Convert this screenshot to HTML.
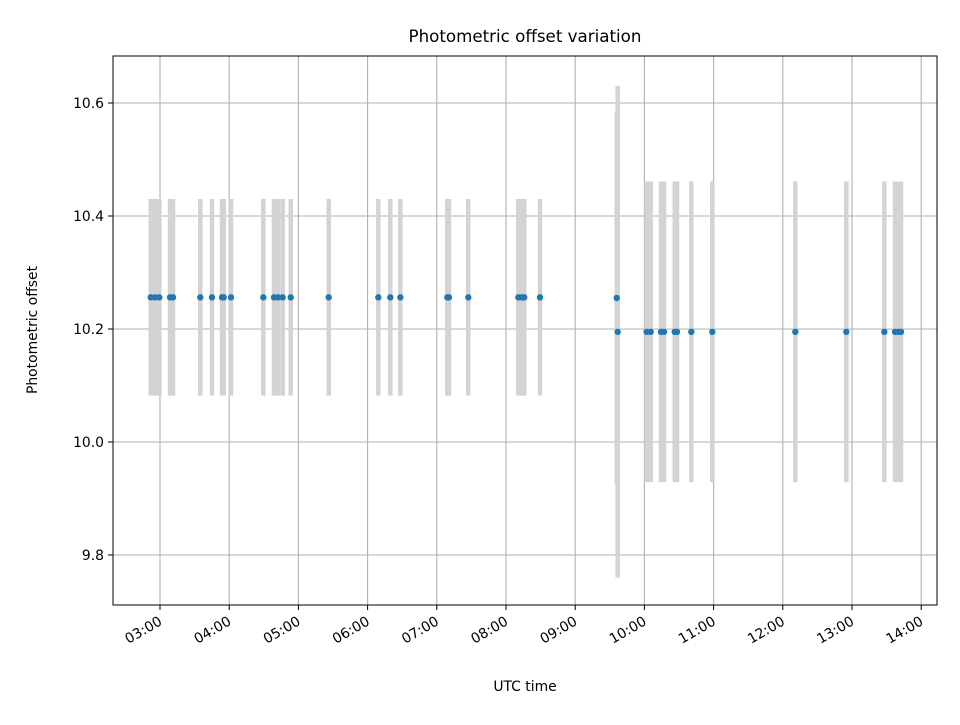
<!DOCTYPE html>
<html><head><meta charset="utf-8"><style>
body{margin:0;background:#fff;}
svg text{font-family:"DejaVu Sans","Liberation Sans",sans-serif;fill:#000;}
</style></head><body>
<svg id="chart" width="960" height="720" viewBox="0 0 960 720" xmlns="http://www.w3.org/2000/svg">
<rect width="960" height="720" fill="#fff"/>
<text x="525" y="42" font-size="16.7" text-anchor="middle">Photometric offset variation</text>
<text x="525" y="691" font-size="13.9" text-anchor="middle">UTC time</text>
<text x="37" y="330" font-size="13.9" text-anchor="middle" transform="rotate(-90 37 330)">Photometric offset</text>
<g id="grid"></g>
<g id="errs"></g>
<g id="pts"></g>
<g id="axes"></g>
</svg>
<script>
// time in decimal UTC hours
const times = [2.866,2.928,2.990,3.145,3.188,3.582,3.751,3.896,3.921,4.026,4.493,4.647,4.705,4.773,4.889,5.438,6.155,6.328,6.473,7.152,7.176,7.455,8.178,8.227,8.264,8.491,
  9.600,9.614,10.033,10.091,10.240,10.283,10.438,10.471,10.678,10.981,12.181,12.918,13.467,13.622,13.670,13.708];
const offsets = [10.256,10.256,10.256,10.256,10.256,10.256,10.256,10.256,10.256,10.256,10.256,10.256,10.256,10.256,10.256,10.256,10.256,10.256,10.256,10.256,10.256,10.256,10.256,10.256,10.256,10.256,
  10.255,10.195,10.195,10.195,10.195,10.195,10.195,10.195,10.195,10.195,10.195,10.195,10.195,10.195,10.195,10.195];
const errors = [0.174,0.174,0.174,0.174,0.174,0.174,0.174,0.174,0.174,0.174,0.174,0.174,0.174,0.174,0.174,0.174,0.174,0.174,0.174,0.174,0.174,0.174,0.174,0.174,0.174,0.174,
  0.33,0.435,0.266,0.266,0.266,0.266,0.266,0.266,0.266,0.266,0.266,0.266,0.266,0.266,0.266,0.266];
const xTickHours = [3,4,5,6,7,8,9,10,11,12,13,14];
const xTickLabels = ["03:00","04:00","05:00","06:00","07:00","08:00","09:00","10:00","11:00","12:00","13:00","14:00"];
const yTicks = [9.8,10.0,10.2,10.4,10.6];
const yTickLabels = ["9.8","10.0","10.2","10.4","10.6"];

const L=113,R=937,T=56,B=605;
const x = h => 160 + (h-3)*69.2;
const y = v => 103 + (10.6-v)*565;
const NS="http://www.w3.org/2000/svg";
function mk(tag, attrs, parent){const e=document.createElementNS(NS,tag);for(const k in attrs)e.setAttribute(k,attrs[k]);parent.appendChild(e);return e;}
const grid=document.getElementById('grid'),errs=document.getElementById('errs'),pts=document.getElementById('pts'),axes=document.getElementById('axes');

xTickHours.forEach((h,i)=>{
  const gx=x(h);
  const gl=mk('line',{x1:gx,x2:gx,y1:T,y2:B,stroke:'#b0b0b0','stroke-width':1.1},grid);
  
  
  const tk=mk('line',{x1:gx,x2:gx,y1:B,y2:B+5,stroke:'#000','stroke-width':1},axes);
  
  
  const t=mk('text',{x:gx+3,y:B+19,'font-size':13.9,'text-anchor':'end',transform:`rotate(-30 ${gx+3} ${B+19})`},axes);
  t.textContent=xTickLabels[i];
  
  
});
yTicks.forEach((v,i)=>{
  const gy=y(v);
  const gl=mk('line',{x1:L,x2:R,y1:gy,y2:gy,stroke:'#b0b0b0','stroke-width':1.1},grid);
  
  
  const tk=mk('line',{x1:L-5,x2:L,y1:gy,y2:gy,stroke:'#000','stroke-width':1},axes);
  
  
  const t=mk('text',{x:L-9,y:gy+5,'font-size':13.9,'text-anchor':'end'},axes);
  t.textContent=yTickLabels[i];
  
  
});
times.forEach((h,i)=>{
  const px=x(h);
  const eb=mk('line',{x1:px,x2:px,y1:y(offsets[i]+errors[i]),y2:y(offsets[i]-errors[i]),stroke:'#d3d3d3','stroke-width':4.5},errs);
  
  
});
times.forEach((h,i)=>{
  const c=mk('circle',{cx:x(h),cy:y(offsets[i]),r:3.2,fill:'#1f77b4'},pts);
  
  
});
const fr=mk('rect',{x:L,y:T,width:R-L,height:B-T,fill:'none',stroke:'#000','stroke-width':1},axes);


</script>
</body></html>
